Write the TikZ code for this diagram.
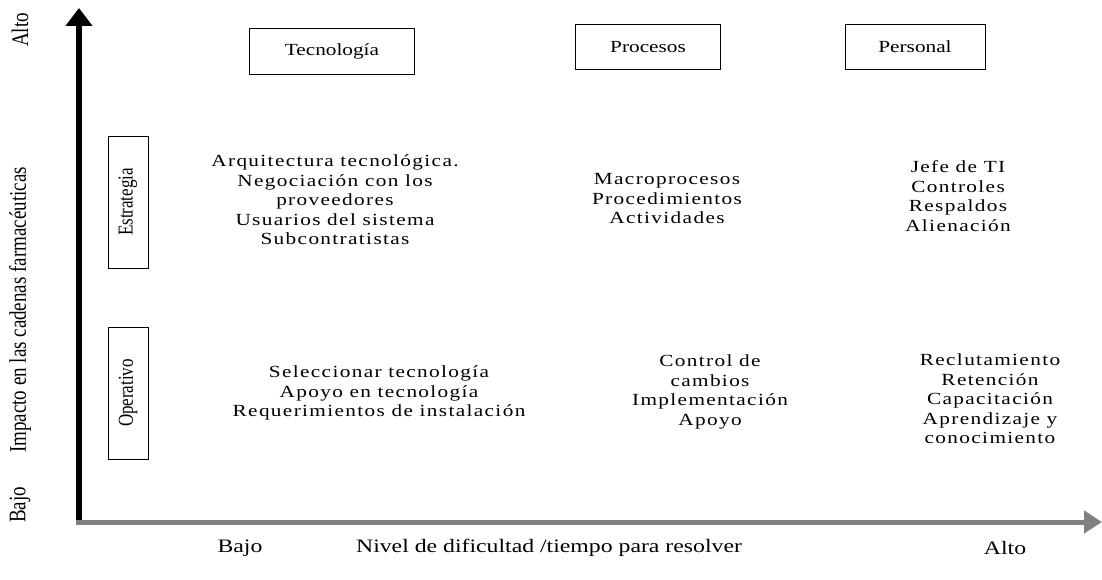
\documentclass[tikz,border=0pt]{standalone}
\usepackage{fontspec}
\setmainfont{Liberation Serif}
\newfontfamily\widefont{Liberation Serif}[FakeStretch=1.25]
\newfontfamily\bodyfont{Liberation Serif}[FakeStretch=1.25,LetterSpace=8]
\usetikzlibrary{arrows.meta}
\begin{document}
\begin{tikzpicture}[x=1pt,y=-1pt,
  headbox/.style={draw, line width=0.8pt, inner sep=0pt,
    font=\widefont\fontsize{17}{20}\selectfont},
  levelbox/.style={draw, line width=0.8pt, inner sep=0pt,
    minimum width=40pt, minimum height=132pt},
  levellabel/.style={rotate=90, font=\fontsize{17}{20}\selectfont},
  itemlist/.style={align=center, inner sep=0pt,
    font=\bodyfont\fontsize{17}{19.5}\selectfont},
  axislabel/.style={inner sep=0pt, font=\widefont\fontsize{19}{22}\selectfont},
  vaxislabel/.style={inner sep=0pt, rotate=90, font=\fontsize{19}{22}\selectfont}]
\useasboundingbox (0,0) rectangle (1102,580);

% axes
\coordinate (O) at (79,524);
\coordinate (Ytip) at (79,8);
\coordinate (Xstart) at (76,522);
\coordinate (Xtip) at (1102,522);
\draw[line width=6pt, -{Triangle[width=26pt,length=18pt]}] (O) -- (Ytip);
\draw[line width=5pt, color=black!50, -{Triangle[width=22pt,length=18pt]}] (Xstart) -- (Xtip);

% column headers
\node[headbox, minimum width=165pt, minimum height=46pt] (tec) at (332,51) {Tecnología};
\node[headbox, minimum width=145pt, minimum height=45pt] (pro) at (648,47) {Procesos};
\node[headbox, minimum width=140pt, minimum height=45pt] (per) at (915,47) {Personal};

% row levels
\node[levelbox] (est) at (128,202) {};
\node[levellabel] (estl) at (est.center) {\scalebox{1}[1.25]{Estrategia}};
\node[levelbox] (ope) at (128,393) {};
\node[levellabel] (opel) at (ope.center) {\scalebox{1}[1.25]{Operativo}};

% cell contents
\node[itemlist] (ts) at (335,200) {Arquitectura tecnológica.\\Negociación con los\\proveedores\\Usuarios del sistema\\Subcontratistas};
\node[itemlist] (ps) at (667,199) {Macroprocesos\\Procedimientos\\Actividades};
\node[itemlist] (hs) at (958,196) {Jefe de TI\\Controles\\Respaldos\\Alienación};
\node[itemlist] (to) at (379,393) {Seleccionar tecnología\\Apoyo en tecnología\\Requerimientos de instalación};
\node[itemlist] (po) at (710,392) {Control de\\cambios\\Implementación\\Apoyo};
\node[itemlist] (ho) at (990,399) {Reclutamiento\\Retención\\Capacitación\\Aprendizaje y\\conocimiento};

% axis labels
\node[axislabel] (xlo) at (240,548) {Bajo};
\node[axislabel] (xname) at (549,548) {Nivel de dificultad /tiempo para resolver};
\node[axislabel] (xhi) at (1005,548) {Alto};
\node[vaxislabel] (yhi) at (20,30) {\scalebox{1}[1.25]{Alto}};
\node[vaxislabel] (yname) at (20,310) {\scalebox{1}[1.25]{Impacto en las cadenas farmacéuticas}};
\node[vaxislabel] (ylo) at (20,505) {\scalebox{1}[1.25]{Bajo}};
\end{tikzpicture}
\end{document}
